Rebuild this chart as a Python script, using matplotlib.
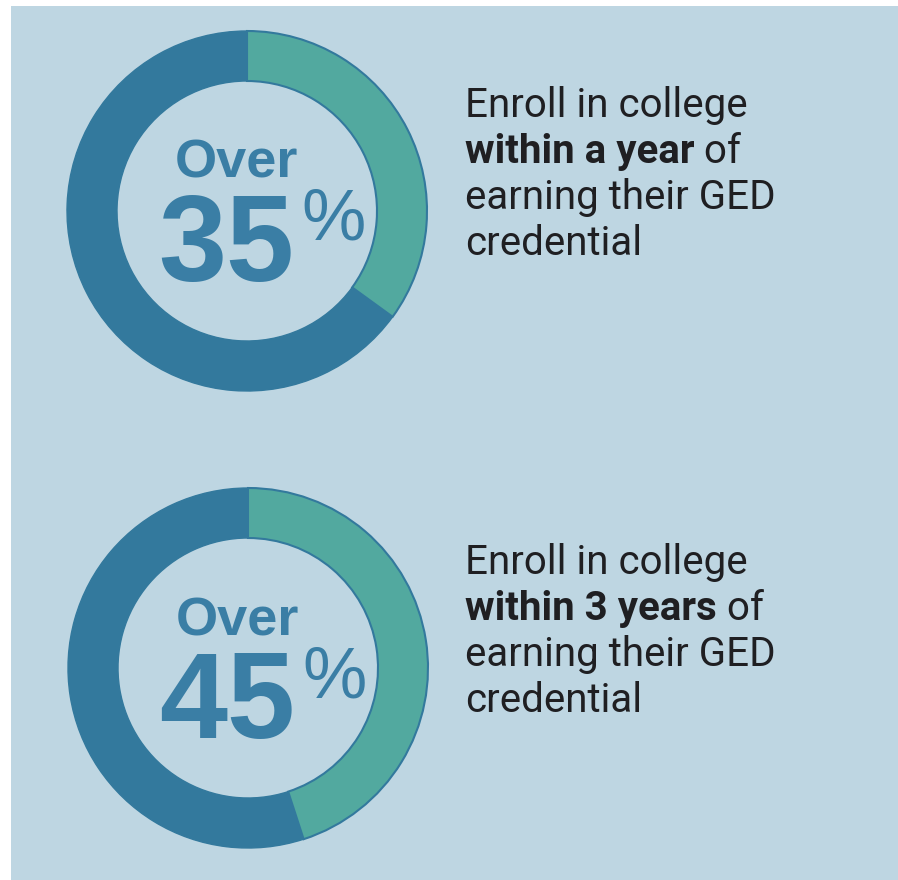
import matplotlib
matplotlib.use('Agg')
import matplotlib.pyplot as plt
from matplotlib.patches import Wedge, Rectangle

# values shown on the rings (percent enrolling)
percents = [35, 45]
big_labels = ['35', '45']
top_label = 'Over'
line1 = 'Enroll in college'
bold_parts = ['within a year', 'within 3 years']
after_bold = ' of'
line3 = 'earning their GED'
line4 = 'credential'

bg_color = '#bed6e2'
ring_dark = '#33799d'
ring_green = '#52a99f'
num_color = '#3a7ea5'
text_color = '#1f1f22'

fig = plt.figure(figsize=(8.98, 8.80), dpi=100)
fig.patch.set_facecolor('white')
ax = fig.add_axes([0, 0, 1, 1])
ax.set_xlim(0, 898)
ax.set_ylim(880, 0)
ax.set_aspect('equal')
ax.axis('off')

ax.add_patch(Rectangle((11, 6), 887, 874, facecolor=bg_color, edgecolor='none'))

centers = [(247, 211), (248, 668)]
r_out = 180
width = 50

renderer = fig.canvas.get_renderer()

for i, (cx, cy) in enumerate(centers):
    pct = percents[i]
    # y axis is inverted, so angles run clockwise on screen
    start = -90
    end = -90 + pct / 100 * 360
    ax.add_patch(Wedge((cx, cy), r_out, end, start + 360, width=width,
                       facecolor=ring_dark, edgecolor=ring_dark, lw=1))
    ax.add_patch(Wedge((cx, cy), r_out, start, end, width=width,
                       facecolor=ring_green, edgecolor=ring_dark, lw=1.5))

    ax.text(cx - 11, cy - 33, top_label, fontsize=39, fontweight='bold',
            family='Liberation Sans', color=num_color, ha='center', va='baseline')
    ax.text(cx - 89, cy + 70, big_labels[i], fontsize=88, fontweight='bold',
            family='Liberation Sans', color=num_color, ha='left', va='baseline')
    ax.text(cx + 54, cy + 29, '%', fontsize=52, family='Liberation Sans',
            color=num_color, ha='left', va='baseline')

    # description block
    tx = 465
    ty = cy - 94
    step = 46
    fs = 29
    ax.text(tx, ty, line1, fontsize=fs, family='Roboto', color=text_color, va='baseline')
    b = ax.text(tx, ty + step, bold_parts[i], fontsize=fs, family='Roboto',
                fontweight='bold', color=text_color, va='baseline')
    bb = b.get_window_extent(renderer=renderer)
    x_end = ax.transData.inverted().transform((bb.x1, bb.y0))[0]
    ax.text(x_end, ty + step, after_bold, fontsize=fs, family='Roboto',
            color=text_color, va='baseline')
    ax.text(tx, ty + 2 * step, line3, fontsize=fs, family='Roboto', color=text_color, va='baseline')
    ax.text(tx, ty + 3 * step, line4, fontsize=fs, family='Roboto', color=text_color, va='baseline')

fig.savefig('out.png', dpi=100, facecolor=fig.get_facecolor())
